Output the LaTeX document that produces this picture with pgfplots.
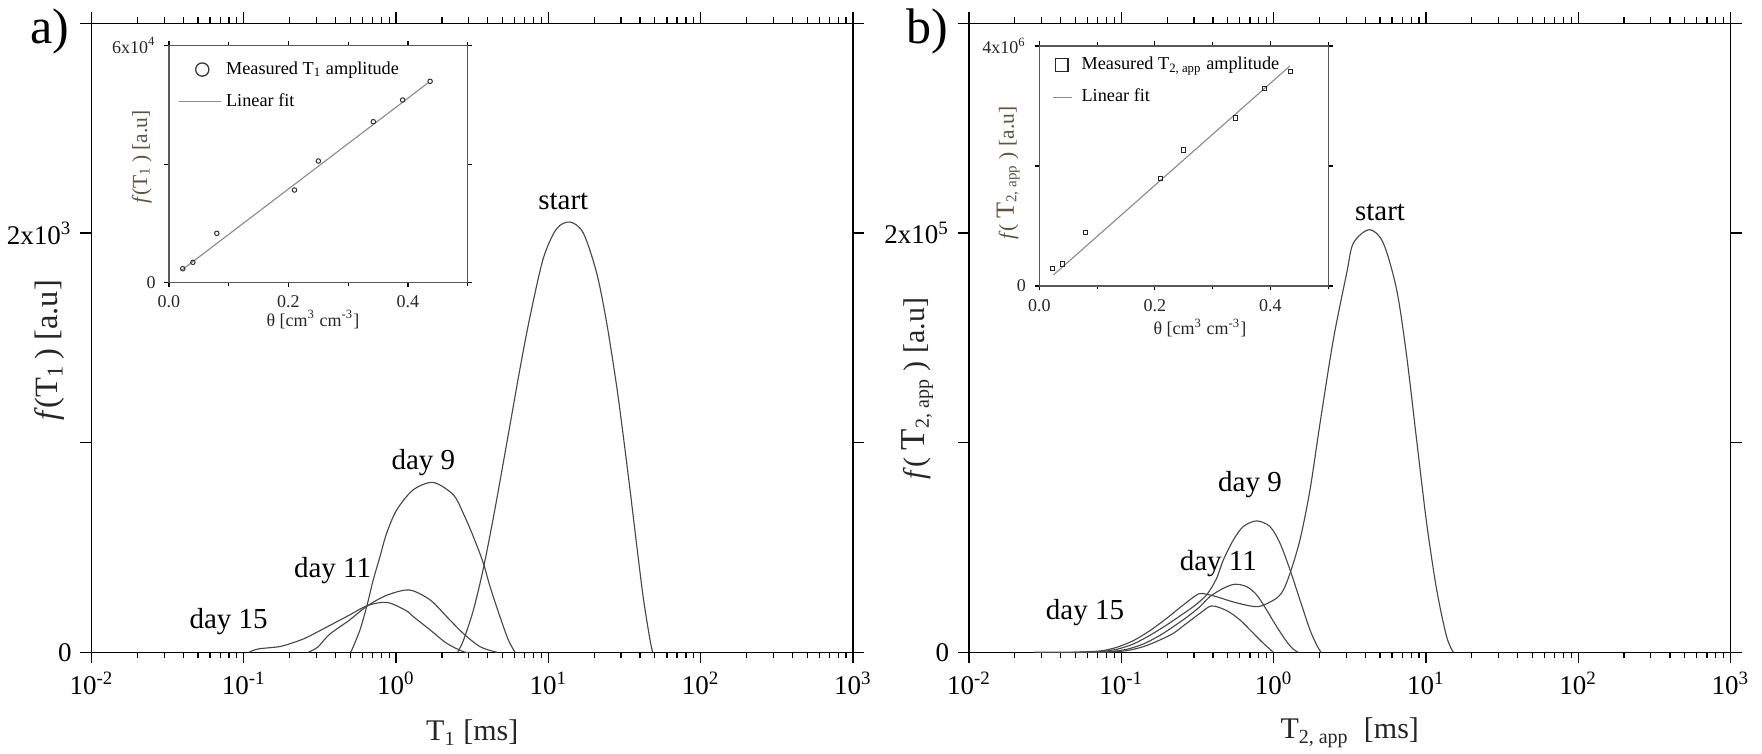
\documentclass[border=0pt]{standalone}
\usepackage{fontspec}
\setmainfont{Liberation Serif}
\usepackage{pgfplots}
\pgfplotsset{compat=1.18}

\definecolor{curve}{gray}{0.28}
\definecolor{insetlab}{RGB}{95,82,62}
\definecolor{fitgray}{gray}{0.55}
\definecolor{insetax}{gray}{0.35}

\pgfplotsset{
 mainax/.style={
  scale only axis, width=304.6pt, height=251.6pt,
  xmin=-2, xmax=3, ymin=0,
  xtick={-2,-1,0,1,2,3},
  xticklabels={10\textsuperscript{-2},10\textsuperscript{-1},10\textsuperscript{0},10\textsuperscript{1},10\textsuperscript{2},10\textsuperscript{3}},
  minor xtick={-1.69897,-1.52288,-1.39794,-1.30103,-1.22185,-1.15490,-1.09691,-1.04576,
   -0.69897,-0.52288,-0.39794,-0.30103,-0.22185,-0.15490,-0.09691,-0.04576,
   0.30103,0.47712,0.60206,0.69897,0.77815,0.84510,0.90309,0.95424,
   1.30103,1.47712,1.60206,1.69897,1.77815,1.84510,1.90309,1.95424,
   2.30103,2.47712,2.60206,2.69897,2.77815,2.84510,2.90309,2.95424},
  tick align=outside,
  major tick length=4.4pt, minor tick length=2.4pt,
  axis line style={black, line width=0.5pt},
  every tick/.style={black, line width=0.5pt},
  tick label style={font=\fontsize{10.8}{12}\selectfont},
  label style={font=\fontsize{12}{13}\selectfont, black!85},
  xlabel style={at={(axis description cs:0.5,-0.128)}, anchor=center},
  scaled y ticks=false,
  clip mode=individual,
  every axis plot post/.append style={curve, line width=0.45pt, mark=none, smooth, tension=0.5},
 },
 insetax/.style={
  scale only axis,
  xmin=0, xmax=0.5, ymin=0,
  xtick={0,0.2,0.4}, xticklabels={0.0,0.2,0.4}, minor xtick={0.1,0.3,0.5},
  tick align=outside,
  major tick length=1.8pt, minor tick length=1.4pt,
  axis line style={insetax, line width=0.5pt},
  every tick/.style={insetax, line width=0.45pt},
  tick label style={font=\fontsize{7.2}{8}\selectfont, black!85},
  label style={font=\fontsize{8.6}{9}\selectfont},
  xlabel style={black!85, font=\fontsize{7.2}{8}\selectfont},
  ylabel style={insetlab},
  scaled y ticks=false,
  axis background/.style={fill=white},
  legend style={draw=none, fill=none, inner sep=0pt, outer sep=0pt,
    font=\fontsize{7.3}{8}\selectfont, row sep=2.2pt},
  legend cell align=left,
 },
}

\begin{document}
\begin{tikzpicture}
\path[use as bounding box] (0pt,0pt) rectangle (704.8pt,301.6pt);

% ---------------- panel a ----------------
\begin{axis}[mainax, at={(36.6pt,40.68pt)}, anchor=south west,
  ymax=3000, ytick={0,1000,2000,3000},
  yticklabels={0,,2x10\textsuperscript{3},},
  xlabel={T\textsubscript{1} [ms]},
  ylabel={\textit{f}(T\textsubscript{1}\,) [a.u]},
  ylabel style={at={(axis description cs:-0.0545,0.48)}, anchor=center, font=\fontsize{13}{14}\selectfont}]
% start
\addplot coordinates {(0.404,0) (0.441,55) (0.507,200) (0.573,400) (0.638,640) (0.693,860) (0.759,1130) (0.814,1355) (0.879,1600) (0.967,1880) (1.054,2020) (1.142,2052) (1.229,2000) (1.317,1809) (1.383,1570) (1.448,1270) (1.492,1030) (1.536,775) (1.580,510) (1.623,260) (1.667,60) (1.685,0)};
% day 9
\addplot coordinates {(-0.298,0) (-0.281,27) (-0.237,107) (-0.193,218) (-0.150,345) (-0.106,456) (-0.062,568) (0.004,679) (0.113,775) (0.244,810) (0.376,751) (0.441,663) (0.507,552) (0.573,425) (0.617,313) (0.682,170) (0.737,59) (0.781,0)};
% day 11
\addplot coordinates {(-0.577,0) (-0.514,25) (-0.438,85) (-0.313,150) (-0.187,222) (-0.061,272) (0.087,297) (0.223,250) (0.332,170) (0.441,90) (0.551,27) (0.660,0)};
% day 15
\addplot coordinates {(-0.967,0) (-0.904,16) (-0.766,27) (-0.680,45) (-0.589,70) (-0.438,127) (-0.313,175) (-0.187,223) (-0.060,238) (0.065,199) (0.113,170) (0.223,107) (0.332,43) (0.441,3) (0.485,0)};
\node[font=\fontsize{11.6}{13}\selectfont] at (axis cs:1.098,2151) {start};
\node[font=\fontsize{11.6}{13}\selectfont] at (axis cs:0.179,905) {day 9};
\node[font=\fontsize{11.6}{13}\selectfont] at (axis cs:-0.417,388) {day 11};
\node[font=\fontsize{11.6}{13}\selectfont] at (axis cs:-1.100,146) {day 15};
\end{axis}

% inset a
\begin{axis}[insetax, at={(67.6pt,188.52pt)}, anchor=south west,
  width=119.5pt, height=94.8pt,
  ymax=60000, ytick={0,30000,60000}, yticklabels={0,,6x10\textsuperscript{4}},
  xlabel={θ [cm\textsuperscript{3} cm\textsuperscript{-3}]},
  xlabel style={at={(axis description cs:0.482,-0.155)}, anchor=center},
  ylabel={\textit{f}(T\textsubscript{1}\,) [a.u]},
  ylabel style={at={(axis description cs:-0.091,0.53)}, anchor=center},
  legend style={at={(axis description cs:0.03,0.955)}, anchor=north west}]
\addplot[only marks, mark=o, mark size=0.9pt, black!80, mark options={line width=0.4pt},
  legend image code/.code={\path[draw=none] (0pt,0pt) -- (16.8pt,0pt); \draw[black!80,line width=0.5pt] (9.5pt,0pt) circle (2.65pt);}]
  coordinates {(0.023,3544) (0.040,5148) (0.080,12489) (0.210,23460) (0.250,30802) (0.342,40759) (0.391,46245) (0.437,50970)};
\addlegendentry{Measured T\textsubscript{1} amplitude}
\addplot[fitgray, line width=0.45pt,
  legend image code/.code={\draw[fitgray,line width=0.45pt] (0pt,0pt) -- (16.8pt,0pt);}]
  coordinates {(0.020,3040) (0.434,50630)};
\addlegendentry{Linear fit}
\end{axis}

% ---------------- panel b ----------------
\begin{axis}[mainax, at={(387.6pt,40.68pt)}, anchor=south west,
  ymax=300000, ytick={0,100000,200000,300000},
  yticklabels={0,,2x10\textsuperscript{5},},
  xlabel={T\textsubscript{2, app}\ \ [ms]},
  ylabel={\textit{f}( {\fontsize{14}{14}\selectfont T}\textsubscript{2, app} ) [a.u]},
  ylabel style={at={(axis description cs:-0.068,0.419)}, anchor=center}]
% start
\addplot coordinates {(-1.315,0) (-1.140,625) (-1.030,2380) (-0.921,5560) (-0.812,10330) (-0.702,16220) (-0.593,22580) (-0.494,27830) (-0.440,27670) (-0.374,26500) (-0.264,24000) (-0.155,22100) (-0.100,21800) (-0.067,22400) (0.020,25800) (0.064,29740) (0.108,37700) (0.173,53600) (0.239,77470) (0.305,109290) (0.392,149070) (0.480,180890) (0.524,195200) (0.629,201570) (0.720,195200) (0.808,172930) (0.874,141110) (0.939,101340) (1.005,61560) (1.071,29740) (1.136,7470) (1.180,0)};
% day 9
\addplot coordinates {(-1.250,0) (-1.140,300) (-1.030,1420) (-0.921,3970) (-0.812,8100) (-0.702,13040) (-0.615,17330) (-0.527,21790) (-0.440,27350) (-0.374,35310) (-0.330,44060) (-0.264,53600) (-0.199,59970) (-0.111,62670) (-0.024,59970) (0.042,52010) (0.108,39290) (0.173,24970) (0.239,10650) (0.283,3490) (0.311,0)};
% day 11
\addplot coordinates {(-1.184,0) (-1.074,310) (-0.965,1420) (-0.855,3970) (-0.746,8100) (-0.658,12240) (-0.571,16690) (-0.483,21790) (-0.418,26560) (-0.330,30540) (-0.254,32440) (-0.177,31330) (-0.111,27350) (-0.046,20190) (0.020,12240) (0.086,5080) (0.130,1420) (0.162,0)};
% day 15
\addplot coordinates {(-1.570,0) (-1.184,0) (-1.074,160) (-0.965,780) (-0.855,2690) (-0.746,5880) (-0.658,9060) (-0.571,13830) (-0.483,18600) (-0.407,22100) (-0.308,19870) (-0.221,15420) (-0.133,9060) (-0.067,4280) (-0.002,0)};
\node[font=\fontsize{11.6}{13}\selectfont] at (axis cs:0.699,209800) {start};
\node[font=\fontsize{11.6}{13}\selectfont] at (axis cs:-0.155,79850) {day 9};
\node[font=\fontsize{11.6}{13}\selectfont] at (axis cs:-0.363,42480) {day 11};
\node[font=\fontsize{11.6}{13}\selectfont] at (axis cs:-1.238,18900) {day 15};
\end{axis}

% inset b
\begin{axis}[insetax, at={(415.72pt,187.2pt)}, anchor=south west,
  width=115.6pt, height=96pt,
  ymax=4000000, ytick={0,2000000,4000000}, yticklabels={0,,4x10\textsuperscript{6}},
  xlabel={θ [cm\textsuperscript{3} cm\textsuperscript{-3}]},
  xlabel style={at={(axis description cs:0.556,-0.175)}, anchor=center},
  ylabel={\textit{f}( {\fontsize{10.5}{10}\selectfont T}\textsubscript{2, app} ) [a.u]},
  ylabel style={at={(axis description cs:-0.108,0.47)}, anchor=center},
  legend style={at={(axis description cs:0.044,0.975)}, anchor=north west}]
\addplot[only marks, mark=square, mark size=0.85pt, black!85, mark options={line width=0.4pt},
  legend image code/.code={\path[draw=none] (0pt,0pt) -- (9.6pt,0pt); \draw[black!85,line width=0.5pt] (1.05pt,-2.55pt) rectangle (6.15pt,2.55pt);}]
  coordinates {(0.0226,294000) (0.0406,367000) (0.080,894000) (0.210,1794000) (0.250,2267000) (0.339,2800000) (0.389,3289000) (0.434,3572000)};
\addlegendentry{Measured T\textsubscript{2, app} amplitude}
\addplot[fitgray, line width=0.45pt,
  legend image code/.code={\draw[fitgray,line width=0.45pt] (0pt,0pt) -- (7.6pt,0pt); \path[draw=none] (9.6pt,0pt);}]
  coordinates {(0.0244,183000) (0.4337,3667000)};
\addlegendentry{Linear fit}
\end{axis}

\node[font=\fontsize{20}{20}\selectfont] at (19.8pt,289pt) {a)};
\node[font=\fontsize{20}{20}\selectfont] at (370.8pt,289pt) {b)};
\end{tikzpicture}
\end{document}
